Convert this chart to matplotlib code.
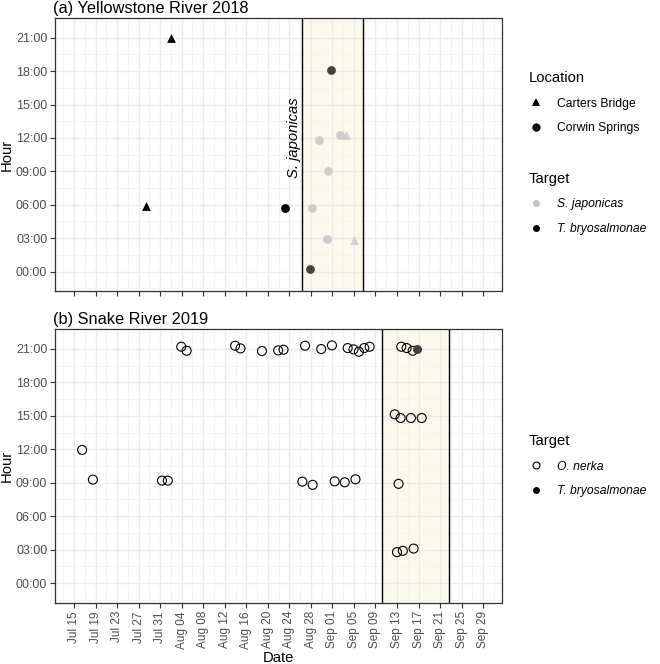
import matplotlib
matplotlib.use("Agg")
import matplotlib.pyplot as plt
import matplotlib.dates as mdates
from matplotlib.lines import Line2D
import pandas as pd

plt.rcParams['font.family'] = ['Liberation Sans', 'DejaVu Sans']

# ---------------- data ----------------
# (a) Yellowstone River 2018
top_location = ['Carters Bridge', 'Carters Bridge', 'Carters Bridge', 'Carters Bridge',
                'Corwin Springs', 'Corwin Springs', 'Corwin Springs', 'Corwin Springs',
                'Corwin Springs', 'Corwin Springs', 'Corwin Springs', 'Corwin Springs']
top_target = ['T. bryosalmonae', 'T. bryosalmonae', 'S. japonicas', 'S. japonicas',
              'T. bryosalmonae', 'T. bryosalmonae', 'T. bryosalmonae', 'S. japonicas',
              'S. japonicas', 'S. japonicas', 'S. japonicas', 'S. japonicas']
top_date = ['2018-08-02 00:00', '2018-07-28 07:00', '2018-09-03 12:00', '2018-09-05 02:00',
            '2018-08-23 05:00', '2018-08-31 17:00', '2018-08-27 20:00', '2018-08-29 12:00',
            '2018-09-02 10:00', '2018-08-31 06:00', '2018-08-28 05:00', '2018-08-31 02:00']
top_hour = [21.0, 5.88, 12.24, 2.85,
            5.73, 18.12, 0.24, 11.85,
            12.24, 9.03, 5.73, 2.88]
top_alpha = [1.0, 1.0, 0.75, 0.75, 1.0, 0.72, 0.72, 0.8, 0.8, 0.8, 0.8, 0.8]
top_window = ['2018-08-26 07:00', '2018-09-06 17:00']
top_label = 'S. japonicas'

# (b) Snake River 2019
bot_target = ['O. nerka'] * 35 + ['T. bryosalmonae']
bot_date = ['2019-07-16 12:00', '2019-07-18 12:00', '2019-07-31 08:00', '2019-08-01 10:00',
            '2019-08-03 22:00', '2019-08-04 22:00', '2019-08-13 22:00', '2019-08-14 22:00',
            '2019-08-18 22:00', '2019-08-21 22:00', '2019-08-22 22:00', '2019-08-26 22:00',
            '2019-08-29 22:00', '2019-08-31 22:00', '2019-09-03 20:00', '2019-09-04 22:00',
            '2019-09-05 22:00', '2019-09-06 22:00', '2019-09-07 22:00', '2019-08-26 10:00',
            '2019-08-28 08:00', '2019-09-01 10:00', '2019-09-03 07:00', '2019-09-05 07:00',
            '2019-09-13 19:00', '2019-09-14 19:00', '2019-09-15 22:00',
            '2019-09-12 14:00', '2019-09-13 16:00', '2019-09-15 14:00', '2019-09-17 14:00',
            '2019-09-13 07:00', '2019-09-13 00:00', '2019-09-14 02:00', '2019-09-16 02:00',
            '2019-09-16 19:00']
bot_hour = [11.94, 9.28, 9.19, 9.19,
            21.19, 20.83, 21.28, 21.04,
            20.80, 20.86, 20.92, 21.28,
            20.98, 21.31, 21.07, 20.95,
            20.74, 21.07, 21.19, 9.10,
            8.81, 9.13, 9.04, 9.31,
            21.19, 21.07, 20.83,
            15.13, 14.80, 14.80, 14.80,
            8.90, 2.78, 2.90, 3.10,
            21.01]
bot_window = ['2019-09-10 07:00', '2019-09-22 17:00']

x_start = '2019-07-11 11:00'
x_end = '2019-10-02 10:00'
tick_start = '2019-07-15'
tick_end = '2019-09-29'
hour_ticks = [0, 3, 6, 9, 12, 15, 18, 21]

# ---------------- styling ----------------
W, H, DPI = 660, 664, 100
fig = plt.figure(figsize=(W / DPI, H / DPI), dpi=DPI)

def px_axes(x0, y0, x1, y1):
    return fig.add_axes([x0 / W, 1 - y1 / H, (x1 - x0) / W, (y1 - y0) / H])

ax1 = px_axes(55, 18.3, 501.5, 291)
ax2 = px_axes(55, 329.3, 501.5, 602.7)

tick_color = '#4d4d4d'
grid_color = '#ebebeb'
band_color = '#fcf8ea'

major = pd.date_range(tick_start, tick_end, freq='4D')
minor = major[:-1] + pd.Timedelta(days=2)
minor = minor.append(pd.DatetimeIndex([major[0] - pd.Timedelta(days=2), major[-1] + pd.Timedelta(days=2)]))

def shift(d):
    # map 2018 dates onto the shared 2019 axis
    t = pd.Timestamp(d)
    return t + pd.DateOffset(years=2019 - t.year)

def style_axes(ax, show_labels):
    ax.set_xlim(mdates.date2num(pd.Timestamp(x_start)), mdates.date2num(pd.Timestamp(x_end)))
    ax.set_ylim(-1.75, 22.75)
    ax.set_xticks(mdates.date2num(major))
    ax.set_xticks(mdates.date2num(minor), minor=True)
    ax.set_yticks(hour_ticks)
    ax.set_yticks([h + 1.5 for h in hour_ticks[:-1]] + [-1.5, 22.5], minor=True)
    ax.set_yticklabels(['%02d:00' % h for h in hour_ticks])
    if show_labels:
        ax.set_xticklabels([d.strftime('%b %d') for d in major], rotation=90)
    else:
        ax.set_xticklabels([])
    ax.grid(True, which='major', color=grid_color, lw=1.0, zorder=0)
    ax.grid(True, which='minor', color='#f3f3f3', lw=0.6, zorder=0)
    ax.tick_params(which='major', length=3.5, width=0.8, color='#333333',
                   labelcolor=tick_color, labelsize=9.0, pad=2)
    ax.tick_params(axis='x', which='major', labelsize=8.5, pad=2.5)
    ax.tick_params(which='minor', length=0)
    for s in ax.spines.values():
        s.set_color('#333333')
        s.set_linewidth(0.9)
    ax.set_axisbelow(True)

style_axes(ax1, False)
style_axes(ax2, True)

# ---- top panel ----
w0, w1 = [mdates.date2num(shift(d)) for d in top_window]
ax1.axvspan(w0, w1, color=band_color, zorder=0.5, lw=0)
ax1.axvline(w0, color='black', lw=1.0, zorder=2)
ax1.axvline(w1, color='black', lw=1.0, zorder=2)
ax1.text(w0 - 0.05, 12.0, top_label, rotation=90, ha='right', va='center',
         fontsize=10.6, style='italic', color='black')

target_color = {'S. japonicas': '#c4c4c4', 'T. bryosalmonae': '#000000'}
loc_marker = {'Carters Bridge': '^', 'Corwin Springs': 'o'}
for loc, tgt, d, h, a in zip(top_location, top_target, top_date, top_hour, top_alpha):
    x = mdates.date2num(shift(d))
    ax1.scatter([x], [h], marker=loc_marker[loc], s=40, color=target_color[tgt],
                alpha=a, linewidths=0, zorder=3)

ax1.set_title('(a) Yellowstone River 2018', loc='left', fontsize=11.8, pad=3.5, x=-0.005)
ax1.set_ylabel('Hour', fontsize=10.6)
ax1.yaxis.set_label_coords(-0.092, 0.5)

# ---- bottom panel ----
b0, b1 = [mdates.date2num(pd.Timestamp(d)) for d in bot_window]
ax2.axvspan(b0, b1, color=band_color, zorder=0.5, lw=0)
ax2.axvline(b0, color='black', lw=1.0, zorder=2)
ax2.axvline(b1, color='black', lw=1.0, zorder=2)
for tgt, d, h in zip(bot_target, bot_date, bot_hour):
    x = mdates.date2num(pd.Timestamp(d))
    if tgt == 'O. nerka':
        ax2.scatter([x], [h], marker='o', s=42, facecolors='none', edgecolors='black',
                    linewidths=0.8, zorder=3)
    else:
        ax2.scatter([x], [h], marker='o', s=42, color='#404040', linewidths=0, zorder=4)

ax2.set_title('(b) Snake River 2019', loc='left', fontsize=11.8, pad=3.5, x=-0.005)
ax2.set_ylabel('Hour', fontsize=10.6)
ax2.yaxis.set_label_coords(-0.092, 0.5)
ax2.set_xlabel('Date', fontsize=10.6)
ax2.xaxis.set_label_coords(0.5, -0.176)

# ---- legends ----
leg_kw = dict(frameon=False, fontsize=8.7, title_fontproperties={'size': 10.6},
              alignment='left', handlelength=1.2, handletextpad=1.1, labelspacing=1.05,
              borderpad=0, borderaxespad=0)

h_loc = [Line2D([], [], ls='none', marker='^', ms=6, color='black', mew=0),
         Line2D([], [], ls='none', marker='o', ms=6, color='black', mew=0)]
l1 = fig.legend(h_loc, ['Carters Bridge', 'Corwin Springs'], title='Location',
                loc='upper left', bbox_to_anchor=(529 / W, 1 - 71 / H), **leg_kw)
l1._legend_box.sep = 9

h_tgt = [Line2D([], [], ls='none', marker='o', ms=5, color='#c4c4c4', mew=0),
         Line2D([], [], ls='none', marker='o', ms=5, color='black', mew=0)]
l2 = fig.legend(h_tgt, ['S. japonicas', 'T. bryosalmonae'], title='Target',
                loc='upper left', bbox_to_anchor=(529 / W, 1 - 172 / H), **leg_kw)
l2._legend_box.sep = 9
for t in l2.get_texts():
    t.set_style('italic')

h_tgt2 = [Line2D([], [], ls='none', marker='o', ms=5, markerfacecolor='none',
                 markeredgecolor='black', mew=0.8),
          Line2D([], [], ls='none', marker='o', ms=5, color='black', mew=0)]
l3 = fig.legend(h_tgt2, ['O. nerka', 'T. bryosalmonae'], title='Target',
                loc='upper left', bbox_to_anchor=(529 / W, 1 - 434 / H), **leg_kw)
l3._legend_box.sep = 9
for t in l3.get_texts():
    t.set_style('italic')

fig.savefig('out.png', dpi=DPI)
